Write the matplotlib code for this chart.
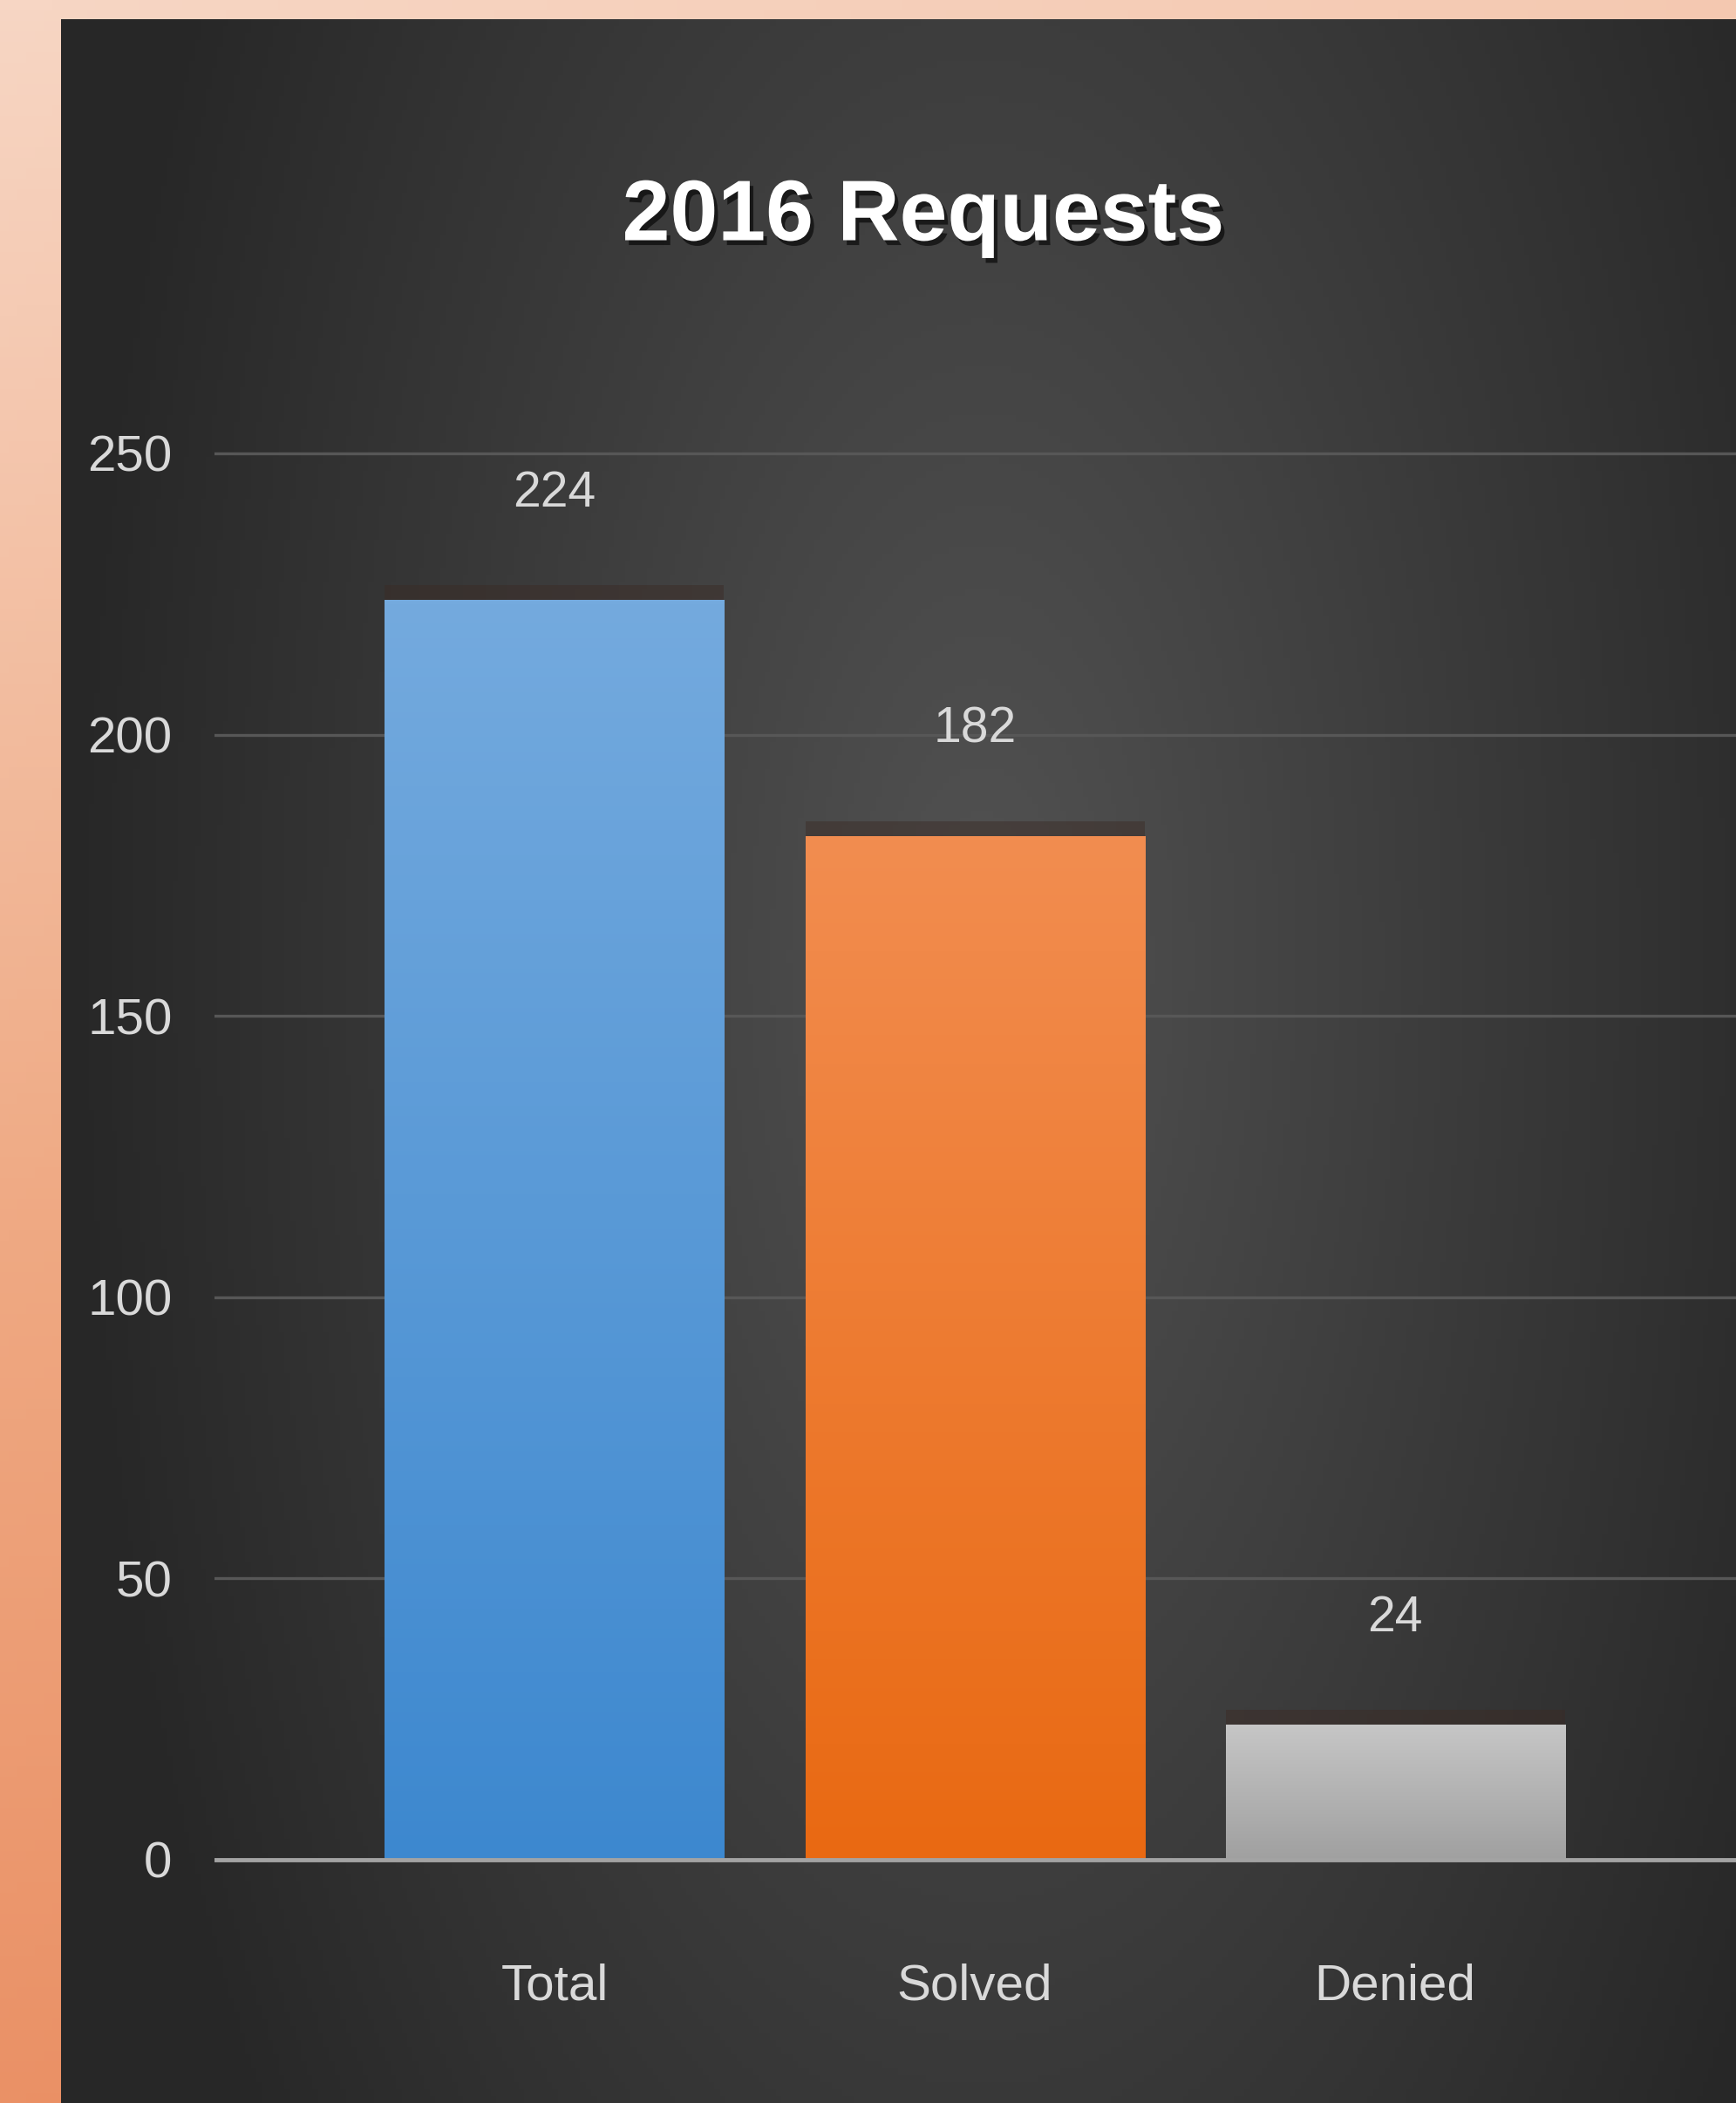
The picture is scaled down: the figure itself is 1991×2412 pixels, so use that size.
import matplotlib
matplotlib.use('Agg')
import matplotlib.pyplot as plt
import matplotlib.patheffects as pe
from matplotlib.colors import LinearSegmentedColormap
import numpy as np

# ── Data ───────────────────────────────────────────────────────────────────────
categories = ["Total", "Solved", "Denied"]
values = [224, 182, 24]
y_ticks = [0, 50, 100, 150, 200, 250]
title = "2016 Requests"

# bar gradients (top colour, bottom colour)
bar_grads = [("#74aade", "#3d88cf"), ("#f28d50", "#e96912"), ("#c6c6c6", "#a0a0a0")]

FONT = ["DejaVu Sans Condensed", "Liberation Sans Narrow", "Liberation Sans"]
W, H = 1991, 2412
fig = plt.figure(figsize=(W / 100, H / 100), dpi=100)

# ── Peach page background ──────────────────────────────────────────────────────
bg = fig.add_axes([0, 0, 1, 1], zorder=-10)
yy, xx = np.mgrid[0:1:200j, 0:1:200j]
t = np.clip(0.85 * yy + 0.15 * xx, 0, 1)
peach = LinearSegmentedColormap.from_list("peach", ["#f7d6c4", "#efa983", "#e8875a"])
bg.imshow(t, cmap=peach, extent=(0, 1, 0, 1), origin="upper", aspect="auto")
bg.axis("off")

# ── Dark chart panel with radial shading ──────────────────────────────────────
px0, py0 = 70 / W, 22 / H
panel = fig.add_axes([px0, 0, 1 - px0, 1 - py0], zorder=-9)
yy, xx = np.mgrid[0:1:300j, 0:1:300j]
d = np.sqrt(((xx - 0.55) / 0.55) ** 2 + ((yy - 0.45) / 0.95) ** 2)
dark = LinearSegmentedColormap.from_list("dark", ["#525252", "#3c3c3c", "#272727"])
panel.imshow(np.clip(d, 0, 1), cmap=dark, extent=(0, 1, 0, 1), origin="upper", aspect="auto")
panel.axis("off")

# ── Main axes ─────────────────────────────────────────────────────────────────
ppu = (2133 - 520) / 250.0          # pixels per unit
ylo, yhi = -5, 255
bot_px = 2133 - ylo * ppu
top_px = 520 - (yhi - 250) * ppu
ax = fig.add_axes([246 / W, 1 - bot_px / H, 1 - 246 / W, (bot_px - top_px) / H])
ax.patch.set_alpha(0)

x = np.arange(len(categories))
bars = ax.bar(x, values, width=0.807, color=[g[1] for g in bar_grads], zorder=3,
              linewidth=0)
for rect, (c_top, c_bot) in zip(bars, bar_grads):
    rect.set_path_effects([pe.SimplePatchShadow(offset=(0, 12), shadow_rgbFace="#3b2a24",
                                                alpha=0.45), pe.Normal()])
    x0, w, h = rect.get_x(), rect.get_width(), rect.get_height()
    cmap = LinearSegmentedColormap.from_list("g", [c_top, c_bot])
    im = ax.imshow(np.linspace(0, 1, 256).reshape(-1, 1), cmap=cmap,
                   extent=(x0, x0 + w, 0, h), origin="upper", aspect="auto", zorder=4)
    im.set_clip_path(rect)

# value labels
for xi, v in zip(x, values):
    ax.annotate(str(v), (xi, v), xytext=(0, 88), textcoords="offset points",
                ha="center", va="center", fontsize=41, color="#d9d9d9", family=FONT)

# gridlines + baseline
for yt in y_ticks[1:]:
    ax.axhline(yt, color="#575757", lw=2.4, zorder=1)
ax.axhline(0, color="#a3a3a3", lw=3.5, zorder=5)

ax.set_xlim(-0.809, 2.811)
ax.set_ylim(ylo, yhi)
ax.set_yticks(y_ticks)
ax.set_yticklabels([str(v) for v in y_ticks], fontsize=42, color="#d9d9d9", family=FONT)
ax.set_xticks(x)
ax.set_xticklabels(categories, fontsize=42, color="#d9d9d9", family=FONT)
ax.tick_params(axis="y", length=0, pad=35)
ax.tick_params(axis="x", length=0, pad=62)
for s in ax.spines.values():
    s.set_visible(False)

# ── Title ─────────────────────────────────────────────────────────────────────
fig.text(1059 / W, 1 - 250 / H, title, ha="center", va="center", fontsize=71,
         fontweight="bold", color="white", family=FONT,
         path_effects=[pe.withSimplePatchShadow(offset=(3, -4), shadow_rgbFace="black",
                                                alpha=0.6)])

fig.savefig("out.png", dpi=100)
